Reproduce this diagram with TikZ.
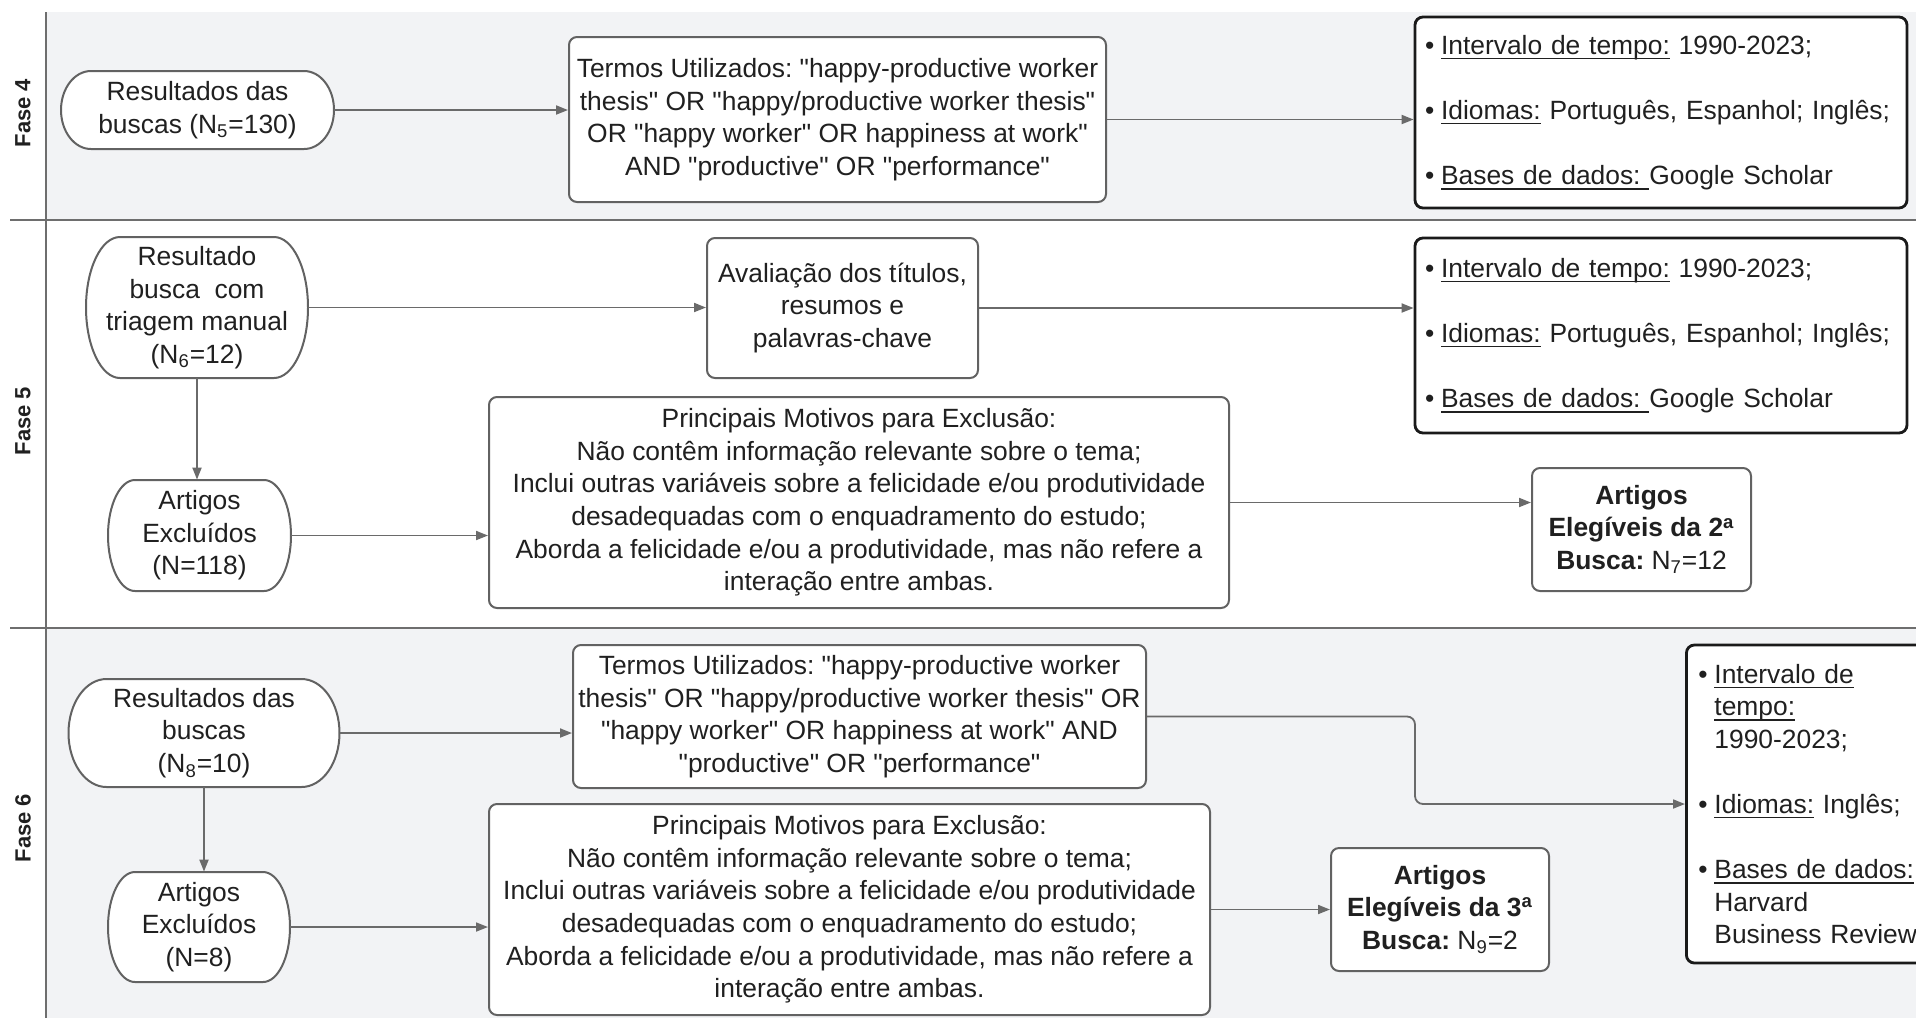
\documentclass[tikz,border=0pt]{standalone}
\usepackage{fontspec}
\setmainfont{Liberation Sans}[Ligatures=TeXOff]
\frenchspacing
\usetikzlibrary{arrows.meta}
\pgfdeclarelayer{lanes}
\pgfdeclarelayer{shapes}
\pgfsetlayers{lanes,shapes,main}

\definecolor{lanebg}{HTML}{F2F3F5}
\definecolor{laneline}{HTML}{6E6E6E}
\definecolor{boxline}{HTML}{626262}
\definecolor{arrcol}{HTML}{6A6A6A}
\definecolor{txt}{HTML}{202020}
\definecolor{critline}{HTML}{1A1A1A}

\newlength{\ulw}
\newcommand{\ulin}[1]{\settowidth{\ulw}{#1}\makebox[0pt][l]{\rule[-2.5pt]{\ulw}{0.65pt}}#1}
\newcommand{\bul}{\makebox[8pt][l]{\textbullet}}
\newcommand{\ind}{\hspace*{8pt}}
\newcommand{\bodyfont}{\fontsize{13.2}{16.3}\selectfont\frenchspacing}

\tikzset{
  wh/.style 2 args={minimum width={#1*0.5pt},minimum height={#2*0.5pt}},
  stadline/.style={draw=boxline, line width=1pt, fill=white},
  stadnode/.style={rectangle, inner sep=0pt, align=center, text=txt, font=\bodyfont},
  boxnode/.style={rectangle, draw=boxline, line width=1pt, fill=white, rounded corners=4pt,
    inner sep=1pt, align=center, text=txt, font=\bodyfont},
  critnode/.style={rectangle, draw=critline, line width=1.4pt, fill=white, rounded corners=4pt,
    inner xsep=6pt, inner ysep=2pt, align=left, text=txt, font=\bodyfont},
  arr/.style={draw=arrcol, line width=0.9pt, -{Triangle[length=6pt,width=4.5pt]}},
  laneln/.style={draw=laneline, line width=1.2pt},
  lanelabel/.style={rotate=90, font=\bfseries\fontsize{11}{13}\selectfont, text=txt},
}

% name, cx, cy, w, h, rx, text
\newcommand{\stadium}[7]{%
  \begin{pgfonlayer}{shapes}
    \draw[stadline] ({#2-#4/2+#6},{#3-#5/2}) -- ({#2+#4/2-#6},{#3-#5/2})
      arc[start angle=90,end angle=-90,x radius={#6*0.5pt},y radius={#5*0.25pt}]
      -- ({#2-#4/2+#6},{#3+#5/2})
      arc[start angle=270,end angle=90,x radius={#6*0.5pt},y radius={#5*0.25pt}]
      -- cycle;
  \end{pgfonlayer}
  \node[stadnode,wh={#4}{#5}] (#1) at (#2,#3) {#7};
}

\begin{document}
\begin{tikzpicture}[x=0.5pt,y=-0.5pt]
\useasboundingbox (0,0) rectangle (1916,1018);
\begin{pgfonlayer}{lanes}
  \fill[white] (0,0) rectangle (1916,1018);
  \fill[lanebg] (46,12) rectangle (1916,220);
  \fill[lanebg] (46,628) rectangle (1916,1018);
  \draw[laneln] (46,12) -- (46,1018);
  \draw[laneln] (10,220) -- (1916,220);
  \draw[laneln] (10,628) -- (1916,628);
\end{pgfonlayer}
\clip (0,0) rectangle (1916,1018);

\node[lanelabel] (F4) at (23,113) {Fase 4};
\node[lanelabel] (F5) at (23,421) {Fase 5};
\node[lanelabel] (F6) at (23,828) {Fase 6};

% ---------- Fase 4
\stadium{A4}{197.5}{110}{273}{78}{30}{Resultados das\\buscas (N\textsubscript{5}=130)}
\node[boxnode,wh={537}{165}] (T4) at (837.5,119.5)
  {Termos Utilizados: "happy-productive worker\\thesis" OR "happy/productive worker thesis"\\OR "happy worker" OR happiness at work"\\AND "productive" OR "performance"};
\node[critnode,text width=236pt,inner xsep=5pt,minimum height=95.5pt] (C4) at (1661,112.5)
  {\bul\ulin{Intervalo de tempo:} 1990-2023;\\[16.3pt]
   \bul\ulin{Idiomas:} Português, Espanhol; Inglês;\\[16.3pt]
   \bul\ulin{Bases de dados:\ }Google Scholar};

% ---------- Fase 5
\stadium{R5}{197}{307.5}{222}{141}{34}{Resultado\\busca~ com\\triagem manual\\(N\textsubscript{6}=12)}
\node[boxnode,wh={271}{140}] (AV5) at (842.5,308)
  {Avaliação dos títulos,\\resumos e\\palavras-chave};
\node[critnode,text width=236pt,inner xsep=5pt,minimum height=97.5pt] (C5) at (1661,335.5)
  {\bul\ulin{Intervalo de tempo:} 1990-2023;\\[16.3pt]
   \bul\ulin{Idiomas:} Português, Espanhol; Inglês;\\[16.3pt]
   \bul\ulin{Bases de dados:\ }Google Scholar};
\stadium{X5}{199.5}{535.5}{183}{111}{27}{Artigos\\Excluídos\\(N=118)}
\node[boxnode,wh={740}{211}] (M5) at (859,502.5)
  {Principais Motivos para Exclusão:\\Não contêm informação relevante sobre o tema;\\Inclui outras variáveis sobre a felicidade e/ou produtividade\\desadequadas com o enquadramento do estudo;\\Aborda a felicidade e/ou a produtividade, mas não refere a\\interação entre ambas.};
\node[boxnode,wh={219}{123}] (E5) at (1641.5,529.5)
  {\textbf{Artigos}\\\textbf{Elegíveis da 2\textsuperscript{a}}\\\textbf{Busca:} N\textsubscript{7}=12};

% ---------- Fase 6
\stadium{R6}{204}{733}{271}{108}{38}{Resultados das\\buscas\\(N\textsubscript{8}=10)}
\node[boxnode,wh={573}{143}] (T6) at (859.5,716.5)
  {Termos Utilizados: "happy-productive worker\\thesis" OR "happy/productive worker thesis" OR\\"happy worker" OR happiness at work" AND\\"productive" OR "performance"};
\node[critnode,text width=112pt,minimum height=159pt,anchor=west] (C6) at (1685,804)
  {\bul\ulin{Intervalo de}\\\ind\ulin{tempo:}\\\ind 1990-2023;\\[16.3pt]
   \bul\ulin{Idiomas:} Inglês;\\[16.3pt]
   \bul\ulin{Bases de dados:}\\\ind Harvard\\\ind Business Review};
\stadium{X6}{199}{927}{182}{110}{27}{Artigos\\Excluídos\\(N=8)}
\node[boxnode,wh={721}{211}] (M6) at (849.5,909.5)
  {Principais Motivos para Exclusão:\\Não contêm informação relevante sobre o tema;\\Inclui outras variáveis sobre a felicidade e/ou produtividade\\desadequadas com o enquadramento do estudo;\\Aborda a felicidade e/ou a produtividade, mas não refere a\\interação entre ambas.};
\node[boxnode,wh={218}{123}] (E6) at (1440,909.5)
  {\textbf{Artigos}\\\textbf{Elegíveis da 3\textsuperscript{a}}\\\textbf{Busca:} N\textsubscript{9}=2};

% ---------- connectors
\coordinate (k6) at (1415,0);
\draw[arr] (A4.east) -- (A4.east -| T4.west);
\draw[arr] (T4.east) -- (T4.east -| C4.west);
\draw[arr] (R5.east) -- (R5.east -| AV5.west);
\draw[arr] (AV5.east) -- (AV5.east -| C5.west);
\draw[arr] (R5.south) -- (R5.south |- X5.north);
\draw[arr] (X5.east) -- (X5.east -| M5.west);
\draw[arr] (M5.east) -- (M5.east -| E5.west);
\draw[arr] (R6.east) -- (R6.east -| T6.west);
\draw[arr] (R6.south) -- (R6.south |- X6.north);
\draw[arr] (X6.east) -- (X6.east -| M6.west);
\draw[arr] (M6.east) -- (M6.east -| E6.west);
\draw[arr,rounded corners=4pt] (T6.east) -- (T6.east -| k6) |- (C6.west);
\end{tikzpicture}
\end{document}
